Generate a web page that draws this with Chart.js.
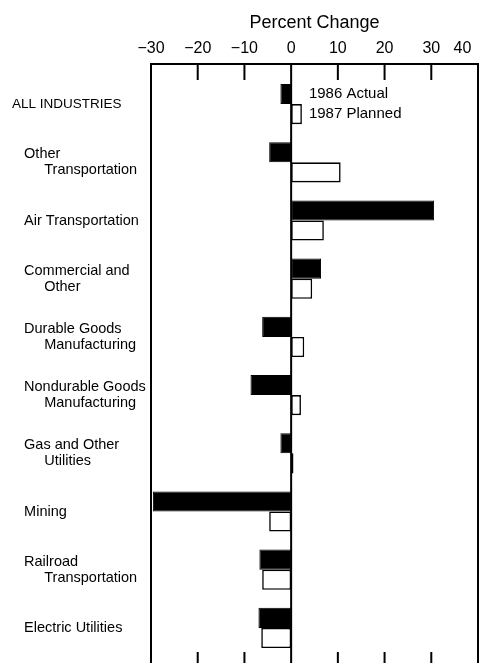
<!DOCTYPE html>
<html>
<head>
<meta charset="utf-8">
<script src="https://cdn.jsdelivr.net/npm/chart.js@4/dist/chart.umd.min.js"></script>
<style>
  html, body { margin: 0; padding: 0; background: #fff; }
  #wrap { width: 481px; height: 663px; }
</style>
</head>
<body>
<div id="wrap"><canvas id="capexChart"></canvas></div>
<script>
const categories = [
  ['ALL INDUSTRIES'],
  ['Other', 'Transportation'],
  ['Air Transportation'],
  ['Commercial and', 'Other'],
  ['Durable Goods', 'Manufacturing'],
  ['Nondurable Goods', 'Manufacturing'],
  ['Gas and Other', 'Utilities'],
  ['Mining'],
  ['Railroad', 'Transportation'],
  ['Electric Utilities']
];
const actual1986 = [-2.3, -4.7, 30.6, 6.4, -6.2, -8.7, -2.3, -29.6, -6.8, -7.0];
const planned1987 = [2.3, 10.6, 7.0, 4.5, 2.8, 2.1, 0.5, -4.7, -6.2, -6.4];
const seriesNames = ['1986 Actual', '1987 Planned'];
const xMin = -30, xMax = 40, xStep = 10;

const FONT = '"Liberation Sans", Arial, Helvetica, sans-serif';
Chart.defaults.font.family = FONT;
Chart.defaults.color = '#000';

// box round the plot, zero line, tick marks top and bottom, series notes
const framePlugin = {
  id: 'frame',
  afterDatasetsDraw(chart) {
    const { ctx, chartArea: a } = chart;
    const x = chart.scales.x;
    const top = a.top - 11;
    const bottom = chart.height + 2;
    ctx.save();
    ctx.strokeStyle = '#000';
    ctx.lineWidth = 2;
    ctx.beginPath();
    ctx.moveTo(a.left, bottom);
    ctx.lineTo(a.left, top);
    ctx.lineTo(a.right, top);
    ctx.lineTo(a.right, bottom);
    const z = x.getPixelForValue(0);
    ctx.moveTo(z, top);
    ctx.lineTo(z, bottom);
    x.ticks.forEach(t => {
      const px = x.getPixelForValue(t.value);
      ctx.moveTo(px, top);
      ctx.lineTo(px, top + 16);
      ctx.moveTo(px, chart.height - 11);
      ctx.lineTo(px, chart.height);
    });
    ctx.stroke();

    const b0 = chart.getDatasetMeta(0).data[0];
    const b1 = chart.getDatasetMeta(1).data[0];
    const tx = Math.max(b0.x, b1.x) + 7;
    ctx.fillStyle = '#000';
    ctx.font = '15px ' + FONT;
    ctx.textBaseline = 'middle';
    ctx.textAlign = 'left';
    ctx.fillText(seriesNames[0], tx, b0.y);
    ctx.fillText(seriesNames[1], tx, b1.y);
    ctx.restore();
  }
};

const ctx = document.getElementById('capexChart').getContext('2d');

new Chart(ctx, {
  type: 'bar',
  data: {
    labels: categories,
    datasets: [{
      label: seriesNames[0],
      data: actual1986,
      backgroundColor: '#000',
      borderColor: '#000',
      borderWidth: 1,
      borderSkipped: false
    }, {
      label: seriesNames[1],
      data: planned1987,
      backgroundColor: '#fff',
      borderColor: '#000',
      borderWidth: 1.6,
      borderSkipped: false
    }]
  },
  options: {
    indexAxis: 'y',
    responsive: true,
    maintainAspectRatio: false,
    animation: false,
    categoryPercentage: 0.69,
    barPercentage: 1,
    layout: { padding: { left: 12, right: 3, top: 0, bottom: 6 } },
    plugins: {
      legend: { display: false },
      tooltip: { enabled: false }
    },
    scales: {
      x: {
        position: 'top',
        min: xMin,
        max: xMax,
        grid: { display: false, drawTicks: false },
        border: { display: false },
        title: {
          display: true,
          text: 'Percent Change',
          font: { size: 18 },
          padding: { top: 12, bottom: 0 }
        },
        ticks: {
          stepSize: xStep,
          autoSkip: false,
          padding: 17,
          font: { size: 16 },
          maxRotation: 0,
          callback: (v) => {
            let s = v < 0 ? '\u2212' + Math.abs(v) : String(v);
            if (v === xMax) s += '\u00a0\u00a0\u00a0\u00a0\u00a0\u00a0\u00a0';
            return s;
          }
        },
        afterFit: (scale) => {
          scale.height = 75;
          scale.paddingLeft = 0;
          scale.paddingRight = 0;
        }
      },
      y: {
        grid: { display: false, drawTicks: false },
        border: { display: false },
        ticks: {
          crossAlign: 'far',
          autoSkip: false,
          font: (c) => ({ size: c.index === 0 ? 13.5 : 14.5, lineHeight: 1.12 }),
          callback: (v, i) => categories[i].map((line, k) =>
            (k > 0 ? '        ' : (i > 0 ? '   ' : '')) + line)
        },
        afterFit: (scale) => {
          scale.width = 139;
          scale.paddingTop = 0;
          scale.paddingBottom = 0;
        }
      }
    }
  },
  plugins: [framePlugin]
});
</script>
</body>
</html>
